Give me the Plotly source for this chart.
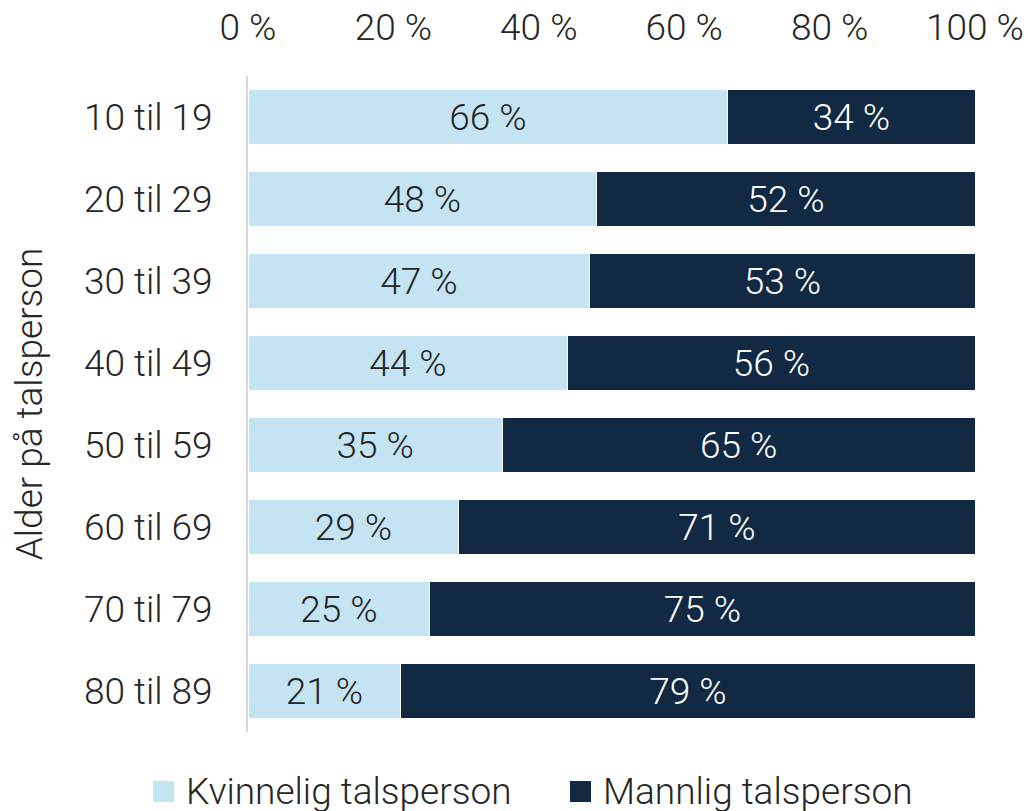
import plotly.graph_objects as go

# Age groups of the speaker, top to bottom
age_groups = ["10 til 19", "20 til 29", "30 til 39", "40 til 49",
              "50 til 59", "60 til 69", "70 til 79", "80 til 89"]
# Share of speakers by gender (percent)
female_pct = [66, 48, 47, 44, 35, 29, 25, 21]
male_pct = [34, 52, 53, 56, 65, 71, 75, 79]

series_names = ["Kvinnelig talsperson", "Mannlig talsperson"]
x_ticks = [0, 20, 40, 60, 80, 100]
x_tick_labels = ["0 %", "20 %", "40 %", "60 %", "80 %", "100 %"]

LIGHT = "#C4E4F3"
DARK = "#112942"
TEXT = "#262626"
FONT = "Roboto"
FS = 37

W, H = 1028, 811
ML, MR, MT, MB = 248, 53, 76, 79
PW, PH = W - ML - MR, H - MT - MB


def px_x(p):
    return (p - ML) / PW


def px_y(p):
    return (H - MB - p) / PH


fig = go.Figure()
fig.add_trace(go.Bar(
    y=age_groups, x=female_pct, orientation="h", name=series_names[0],
    marker=dict(color=LIGHT, line=dict(color="white", width=1)),
    texttemplate="%{x} %", textposition="inside", insidetextanchor="middle",
    constraintext="none",
    textfont=dict(family=FONT, size=FS, color=TEXT, weight=300),
    showlegend=False,
))
fig.add_trace(go.Bar(
    y=age_groups, x=male_pct, orientation="h", name=series_names[1],
    marker=dict(color=DARK, line=dict(color="white", width=1)),
    texttemplate="%{x} %", textposition="inside", insidetextanchor="middle",
    constraintext="none",
    textfont=dict(family=FONT, size=FS, color="white", weight=300),
    showlegend=False,
))

# Legend drawn as swatches plus labels below the plot
legend_items = [(series_names[0], LIGHT, 153, 184),
                (series_names[1], DARK, 570, 601)]
for name, color, sx, tx in legend_items:
    fig.add_shape(type="rect", xref="paper", yref="paper",
                  x0=px_x(sx), x1=px_x(sx + 21), y0=px_y(781), y1=px_y(802),
                  fillcolor=color, line=dict(width=0), layer="above")
    fig.add_annotation(text=name, xref="paper", yref="paper",
                       x=px_x(tx), y=px_y(791),
                       xanchor="left", yanchor="middle", showarrow=False,
                       font=dict(family=FONT, size=FS, color=TEXT, weight=300))

fig.update_layout(
    barmode="stack",
    bargap=0.33,
    width=W, height=H,
    margin=dict(l=ML, r=MR, t=MT, b=MB, autoexpand=False),
    paper_bgcolor="white", plot_bgcolor="white",
    font=dict(family=FONT, size=FS, color=TEXT, weight=300),
    xaxis=dict(
        side="top", range=[0, 100], tickvals=x_ticks, ticktext=x_tick_labels,
        showgrid=False, zeroline=False, showline=False, ticks="",
        ticklabelstandoff=28, automargin=False,
        tickfont=dict(family=FONT, size=FS, color=TEXT, weight=300),
    ),
    yaxis=dict(
        autorange="reversed", showgrid=False, zeroline=False,
        showline=True, linecolor="#D9D9D9", linewidth=2, ticks="",
        ticklabelstandoff=26, automargin=False,
        tickfont=dict(family=FONT, size=FS, color=TEXT, weight=300),
        title=dict(text="Alder på talsperson", standoff=30,
                   font=dict(family=FONT, size=FS, color=TEXT, weight=300)),
    ),
)

fig.write_html("out.html")
